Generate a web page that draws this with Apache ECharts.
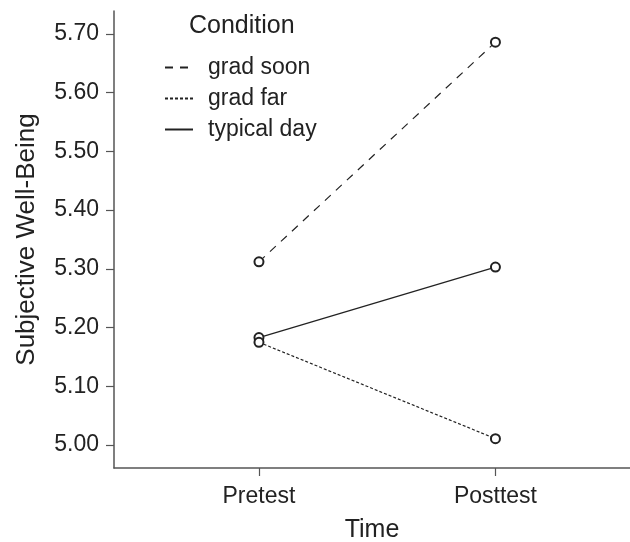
<!DOCTYPE html>
<html>
<head>
<meta charset="utf-8">
<script src="https://cdn.jsdelivr.net/npm/echarts@6/dist/echarts.min.js"></script>
<style>html,body{margin:0;padding:0;background:#fff}#c{width:630px;height:542px}</style>
</head>
<body>
<div id="c"></div>
<script>
var categories = ['Pretest', 'Posttest'];
var seriesNames = ['grad soon', 'grad far', 'typical day'];
var gradSoon = [5.312, 5.686];
var gradFar = [5.175, 5.011];
var typicalDay = [5.183, 5.303];
var yTicks = [5.00, 5.10, 5.20, 5.30, 5.40, 5.50, 5.60, 5.70];

var FONT = '"Liberation Sans", Arial, Helvetica, sans-serif';
var INK = '#222';
var AXIS = '#555';

function toPoints(vals) {
  return vals.map(function (v, i) { return [i, v]; });
}
var dashes = [[8, 7], [3, 2], 'solid'];
var allData = [gradSoon, gradFar, typicalDay];

var chart = echarts.init(document.getElementById('c'), null, { renderer: 'canvas' });
chart.setOption({
  animation: false,
  backgroundColor: '#fff',
  textStyle: { fontFamily: FONT },
  title: {
    text: 'Condition',
    left: 189,
    top: 14,
    padding: 0,
    textStyle: { fontFamily: FONT, fontSize: 25, fontWeight: 'normal', color: INK }
  },
  legend: {
    orient: 'vertical',
    left: 164,
    top: 56,
    padding: 0,
    itemWidth: 28,
    itemHeight: 14,
    itemGap: 8,
    data: seriesNames,
    itemStyle: { opacity: 0 },
    textStyle: { fontFamily: FONT, fontSize: 23, color: INK, padding: [0, 0, 0, 10], lineHeight: 22 }
  },
  grid: { left: 114, right: 0, top: 11, bottom: 74, containLabel: false, outerBoundsMode: 'none' },
  xAxis: {
    type: 'value',
    min: -0.613,
    max: 1.569,
    name: 'Time',
    nameLocation: 'middle',
    nameGap: 50,
    nameTextStyle: { fontFamily: FONT, fontSize: 25, color: INK },
    axisLine: { show: true, onZero: false, lineStyle: { color: AXIS, width: 1.5 } },
    axisTick: { show: true, length: 8, customValues: [0, 1], lineStyle: { color: AXIS, width: 1.2 } },
    axisLabel: {
      customValues: [0, 1],
      margin: 17,
      fontFamily: FONT, fontSize: 23, color: INK,
      formatter: function (v) { return categories[Math.round(v)] || ''; }
    },
    splitLine: { show: false }
  },
  yAxis: {
    type: 'value',
    min: 4.961,
    max: 5.739,
    name: 'Subjective Well-Being',
    nameLocation: 'middle',
    nameGap: 74,
    nameRotate: 90,
    nameTextStyle: { fontFamily: FONT, fontSize: 26, color: INK },
    axisLine: { show: true, onZero: false, lineStyle: { color: AXIS, width: 1.5 } },
    axisTick: { show: true, length: 8, customValues: yTicks, lineStyle: { color: AXIS, width: 1.2 } },
    axisLabel: {
      customValues: yTicks,
      margin: 15,
      fontFamily: FONT, fontSize: 23, color: INK,
      formatter: function (v) { return v.toFixed(2); }
    },
    splitLine: { show: false }
  },
  series: seriesNames.map(function (name, k) {
    return {
      name: name,
      type: 'line',
      data: toPoints(allData[k]),
      symbol: 'emptyCircle',
      symbolSize: 9,
      showSymbol: true,
      color: INK,
      itemStyle: { color: INK, borderColor: INK, borderWidth: 1.3 },
      lineStyle: { color: INK, width: 1.2, type: dashes[k] },
      emphasis: { disabled: true },
      z: 3 - k
    };
  })
});
</script>
</body>
</html>
